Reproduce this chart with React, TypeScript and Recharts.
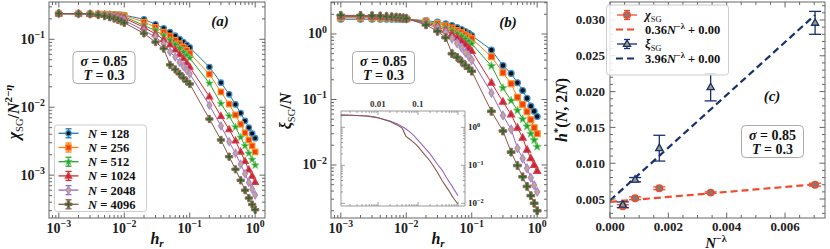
import React from 'react';
import { ComposedChart, Line, Scatter, XAxis, YAxis, ErrorBar, ReferenceArea } from 'recharts';

// ---------- data ----------
const HR = [0.001, 0.002, 0.003, 0.004, 0.005, 0.006, 0.007, 0.008, 0.009, 0.01,
  0.02, 0.03, 0.04, 0.05, 0.06, 0.07, 0.08, 0.09, 0.1,
  0.2, 0.3, 0.4, 0.5, 0.6, 0.7, 0.8, 0.9, 1.0];

const SIZE_LABELS = ['128', '256', '512', '1024', '2048', '4096'];

const CHI_N128 = [0.237, 0.237, 0.236, 0.236, 0.235, 0.234, 0.233, 0.231, 0.229, 0.227,
  0.197, 0.166, 0.145, 0.128, 0.113, 0.101, 0.091, 0.083, 0.076,
  0.039, 0.023, 0.0155, 0.011, 0.0082, 0.0063, 0.005, 0.0041, 0.0035];
const CHI_N256 = [0.238, 0.238, 0.237, 0.236, 0.235, 0.233, 0.231, 0.229, 0.226, 0.223,
  0.18, 0.15, 0.128, 0.112, 0.097, 0.086, 0.077, 0.069, 0.062,
  0.0306, 0.0168, 0.0111, 0.0077, 0.0056, 0.0042, 0.0033, 0.0027, 0.0022];
const CHI_N512 = [0.238, 0.238, 0.237, 0.235, 0.233, 0.23, 0.227, 0.223, 0.219, 0.215,
  0.16, 0.135, 0.113, 0.097, 0.084, 0.074, 0.065, 0.058, 0.053,
  0.0225, 0.0113, 0.0074, 0.0051, 0.0036, 0.0027, 0.0021, 0.0017, 0.0014];
const CHI_N1024 = [0.238, 0.237, 0.236, 0.233, 0.229, 0.225, 0.22, 0.215, 0.21, 0.205,
  0.15, 0.12, 0.099, 0.083, 0.07, 0.06, 0.052, 0.045, 0.039,
  0.0143, 0.0074, 0.0047, 0.0032, 0.0022, 0.0016, 0.0012, 0.00097, 0.00079];
const CHI_N2048 = [0.239, 0.238, 0.236, 0.231, 0.225, 0.219, 0.212, 0.205, 0.198, 0.19,
  0.135, 0.108, 0.086, 0.065, 0.055, 0.046, 0.04, 0.035, 0.031,
  0.0107, 0.0053, 0.0031, 0.0021, 0.00145, 0.00105, 0.00078, 0.00062, 0.00051];
const CHI_N4096 = [0.24, 0.238, 0.235, 0.228, 0.22, 0.211, 0.202, 0.193, 0.184, 0.175,
  0.122, 0.091, 0.073, 0.042, 0.036, 0.031, 0.027, 0.024, 0.022,
  0.0067, 0.0033, 0.00187, 0.00122, 0.00084, 0.0006, 0.00046, 0.00037, 0.00031];

const XI_N128 = [1.68, 1.68, 1.68, 1.68, 1.68, 1.68, 1.68, 1.68, 1.68, 1.68,
  1.6, 1.52, 1.43, 1.35, 1.25, 1.17, 1.09, 1.02, 0.95,
  0.57, 0.33, 0.25, 0.18, 0.137, 0.104, 0.079, 0.066, 0.055];
const XI_N256 = [1.76, 1.76, 1.76, 1.75, 1.75, 1.74, 1.73, 1.72, 1.71, 1.7,
  1.57, 1.45, 1.34, 1.24, 1.13, 1.05, 0.97, 0.9, 0.85,
  0.45, 0.257, 0.174, 0.108, 0.084, 0.065, 0.049, 0.037, 0.03];
const XI_N512 = [1.82, 1.82, 1.81, 1.8, 1.79, 1.78, 1.76, 1.75, 1.73, 1.71,
  1.53, 1.38, 1.24, 1.12, 1.01, 0.92, 0.84, 0.77, 0.71,
  0.325, 0.15, 0.096, 0.068, 0.05, 0.039, 0.03, 0.024, 0.019];
const XI_N1024 = [1.87, 1.86, 1.85, 1.84, 1.82, 1.8, 1.78, 1.76, 1.74, 1.72,
  1.48, 1.31, 1.14, 1.0, 0.88, 0.78, 0.69, 0.61, 0.55,
  0.18, 0.092, 0.059, 0.037, 0.026, 0.017, 0.0126, 0.01, 0.0081];
const XI_N2048 = [1.9, 1.89, 1.88, 1.86, 1.84, 1.82, 1.79, 1.77, 1.75, 1.72,
  1.44, 1.22, 1.05, 0.85, 0.72, 0.62, 0.52, 0.46, 0.4,
  0.126, 0.057, 0.035, 0.018, 0.0126, 0.0089, 0.0064, 0.0049, 0.0039];
const XI_N4096 = [1.93, 1.92, 1.9, 1.88, 1.85, 1.83, 1.8, 1.77, 1.75, 1.72,
  1.38, 1.1, 0.88, 0.5, 0.44, 0.38, 0.33, 0.3, 0.27,
  0.066, 0.033, 0.0157, 0.0098, 0.0066, 0.0047, 0.0034, 0.0026, 0.002];

const INSET_N2048 = [2.1, 2.08, 2.05, 2.02, 1.99, 1.95, 1.91, 1.87, 1.83, 1.79,
  1.47, 1.24, 1.06, 0.9, 0.78, 0.68, 0.6, 0.52, 0.46,
  0.2, 0.11, 0.075, 0.05, 0.037, 0.029, 0.023, 0.019, 0.016];
const INSET_N4096 = [2.1, 2.08, 2.05, 2.02, 1.98, 1.94, 1.9, 1.86, 1.82, 1.78,
  1.42, 1.16, 0.96, 0.58, 0.5, 0.44, 0.39, 0.35, 0.31,
  0.13, 0.068, 0.04, 0.028, 0.021, 0.016, 0.013, 0.011, 0.0095];

const N_LAMBDA = [0.00044, 0.00086, 0.00169, 0.00345, 0.00703];
const HSTAR_CHI = [0.004, 0.0051, 0.0065, 0.0059, 0.007];
const ERR_CHI = [0.0002, 0.0002, 0.0002, 0.0001, 0.0002];
const HSTAR_XI = [0.0042, 0.0077, 0.0121, 0.0206, 0.0296];
const ERR_XI = [0.0004, 0.0003, 0.0018, 0.0019, 0.0016];
const FIT_X = [0, 0.00703];
const FIT_CHI = [0.0046, 0.00705];
const FIT_XI = [0.0048, 0.0307];

// tick positions
const decade = (k: number) => [1, 2, 3, 4, 5, 6, 7, 8, 9].map((m) => +(m * Math.pow(10, k)).toPrecision(3));
const A_X_TICKS = [0.0008, 0.0009, ...decade(-3), ...decade(-2), ...decade(-1), 1];
const A_Y_TICKS = [0.0003, 0.0004, 0.0005, 0.0006, 0.0007, 0.0008, 0.0009, ...decade(-3), ...decade(-2), 0.1, 0.2, 0.3];
const B_Y_TICKS = [0.002, 0.003, 0.004, 0.005, 0.006, 0.007, 0.008, 0.009, ...decade(-2), ...decade(-1), 1, 2, 3];
const IN_X_TICKS = [0.002, 0.003, 0.004, 0.005, 0.006, 0.007, 0.008, 0.009, ...decade(-2), ...decade(-1), 1];
const IN_Y_TICKS = [...decade(-2), ...decade(-1), 1, 2];
const C_X_TICKS = [0, 0.0005, 0.001, 0.0015, 0.002, 0.0025, 0.003, 0.0035, 0.004, 0.0045, 0.005, 0.0055, 0.006, 0.0065, 0.007];
const C_Y_TICKS = [0.003, 0.004, 0.005, 0.006, 0.007, 0.008, 0.009, 0.01, 0.011, 0.012, 0.013, 0.014, 0.015, 0.016,
  0.017, 0.018, 0.019, 0.02, 0.021, 0.022, 0.023, 0.024, 0.025, 0.026, 0.027, 0.028, 0.029, 0.03, 0.031, 0.032];

// ---------- tables for the library ----------
const CHI_ROWS = HR.map((h, i) => ({ h, n128: CHI_N128[i], n256: CHI_N256[i], n512: CHI_N512[i], n1024: CHI_N1024[i], n2048: CHI_N2048[i], n4096: CHI_N4096[i] }));
const XI_ROWS = HR.map((h, i) => ({ h, n128: XI_N128[i], n256: XI_N256[i], n512: XI_N512[i], n1024: XI_N1024[i], n2048: XI_N2048[i], n4096: XI_N4096[i] }));
const INSET_ROWS = HR.map((h, i) => ({ h, n2048: INSET_N2048[i], n4096: INSET_N4096[i] }));
const CHI_PTS = N_LAMBDA.map((x, i) => ({ x, y: HSTAR_CHI[i], err: ERR_CHI[i] }));
const XI_PTS = N_LAMBDA.map((x, i) => ({ x, y: HSTAR_XI[i], err: ERR_XI[i] }));
const FIT_CHI_ROWS = FIT_X.map((x, i) => ({ x, y: FIT_CHI[i] }));
const FIT_XI_ROWS = FIT_X.map((x, i) => ({ x, y: FIT_XI[i] }));

// ---------- styles ----------
const FONT = '"Liberation Serif", "DejaVu Serif", serif';
const AX = '#555';
const SERIES = [
  { key: 'n128', color: '#1f77b4', kind: 'circle' },
  { key: 'n256', color: '#ff7f0e', kind: 'square' },
  { key: 'n512', color: '#2ca02c', kind: 'star' },
  { key: 'n1024', color: '#d62728', kind: 'triangle' },
  { key: 'n2048', color: '#9467bd', kind: 'diamond' },
  { key: 'n4096', color: '#8c564b', kind: 'plus' },
];
const RED = '#ef4b2c';
const NAVY = '#17306e';

const PA = { L: 49, R: 265, T: 2, B: 218 };
const PB = { L: 331, R: 547, T: 2, B: 218 };
const PC = { L: 610, R: 825, T: 2, B: 218 };
const PI = { L: 341, R: 465, T: 111, B: 206 };

const W = 830;
const H = 249;
const marginOf = (p: { L: number; R: number; T: number; B: number }) => ({ left: p.L - 1, right: W - p.R, top: p.T, bottom: H - p.B - 1 });

function starPoints(cx: number, cy: number, ro: number, ri: number) {
  const pts: string[] = [];
  for (let k = 0; k < 10; k++) {
    const r = k % 2 === 0 ? ro : ri;
    const a = -Math.PI / 2 + (k * Math.PI) / 5;
    pts.push(`${cx + r * Math.cos(a)},${cy + r * Math.sin(a)}`);
  }
  return pts.join(' ');
}

function Marker({ kind, cx, cy, s = 1 }: { kind: string; cx: number; cy: number; s?: number }) {
  if (cx == null || cy == null || isNaN(cx) || isNaN(cy)) return null;
  switch (kind) {
    case 'circle':
      return <circle cx={cx} cy={cy} r={2.7 * s} fill="#101010" stroke="#3a8fd0" strokeWidth={1.3} />;
    case 'square':
      return <rect x={cx - 2.7 * s} y={cy - 2.7 * s} width={5.4 * s} height={5.4 * s} fill="#f0400c" stroke="#ff8a20" strokeWidth={1.2} />;
    case 'star':
      return <polygon points={starPoints(cx, cy, 4.0 * s, 1.7 * s)} fill="#2ca02c" stroke="#6fcf6f" strokeWidth={0.8} />;
    case 'triangle': {
      const r = 3.7 * s;
      return <polygon points={`${cx},${cy - r} ${cx + r * 0.9},${cy + r * 0.6} ${cx - r * 0.9},${cy + r * 0.6}`} fill="#b8284a" stroke="#e33a3a" strokeWidth={1.1} />;
    }
    case 'diamond': {
      const w = 2.4 * s, h = 3.9 * s;
      return <polygon points={`${cx},${cy - h} ${cx + w},${cy} ${cx},${cy + h} ${cx - w},${cy}`} fill="#c9a97c" stroke="#a98ad6" strokeWidth={1.2} />;
    }
    case 'plus': {
      const a = 1.2 * s, l = 3.6 * s;
      const p = [[-a, -l], [a, -l], [a, -a], [l, -a], [l, a], [a, a], [a, l], [-a, l], [-a, a], [-l, a], [-l, -a], [-a, -a]];
      return <polygon points={p.map(([x, y]) => `${cx + x},${cy + y}`).join(' ')} fill="#2e6b2a" stroke="#9a6a5c" strokeWidth={1} />;
    }
    default:
      return null;
  }
}

const isMajorLog = (v: number) => {
  const l = Math.log10(v);
  return Math.abs(l - Math.round(l)) < 1e-6;
};

function Pow10({ x, y, exp, anchor = 'middle', size = 14 }: { x: number; y: number; exp: number; anchor?: string; size?: number }) {
  return (
    <text x={x} y={y} textAnchor={anchor as any} fontFamily={FONT} fontWeight="bold" fontSize={size} fill="#222">
      10
      <tspan dy={-size * 0.42} fontSize={size * 0.7}>{exp < 0 ? '\u2212' + -exp : String(exp)}</tspan>
    </text>
  );
}

function logXTick(p: { T: number; B: number }, labels: boolean, size = 14) {
  return (props: any) => {
    const x = props.x;
    const v = props.payload.value;
    const M = isMajorLog(v);
    const L = M ? 5.5 : 3;
    return (
      <g>
        <line x1={x} x2={x} y1={p.B} y2={p.B - L} stroke={AX} strokeWidth={0.9} />
        <line x1={x} x2={x} y1={p.T} y2={p.T + L} stroke={AX} strokeWidth={0.9} />
        {labels && M && <Pow10 x={x} y={p.B + 15} exp={Math.round(Math.log10(v))} size={size} />}
      </g>
    );
  };
}

function logYTick(p: { L: number; R: number }, labels: boolean, size = 14) {
  return (props: any) => {
    const y = props.y;
    const v = props.payload.value;
    const M = isMajorLog(v);
    const L = M ? 5.5 : 3;
    return (
      <g>
        <line x1={p.L} x2={p.L + L} y1={y} y2={y} stroke={AX} strokeWidth={0.9} />
        <line x1={p.R} x2={p.R - L} y1={y} y2={y} stroke={AX} strokeWidth={0.9} />
        {labels && M && <Pow10 x={p.L - 4} y={y + 4.5} exp={Math.round(Math.log10(v))} anchor="end" size={size} />}
      </g>
    );
  };
}

function insetXTick(props: any) {
  const x = props.x;
  const v = props.payload.value;
  const M = isMajorLog(v);
  const L = M ? 4 : 2;
  const e = Math.round(Math.log10(v));
  return (
    <g>
      <line x1={x} x2={x} y1={PI.B} y2={PI.B - L} stroke="#888" strokeWidth={0.8} />
      <line x1={x} x2={x} y1={PI.T} y2={PI.T + L} stroke="#888" strokeWidth={0.8} />
      {M && e < 0 && (
        <text x={x} y={PI.T - 4} textAnchor="middle" fontFamily={FONT} fontWeight="bold" fontSize={9} fill="#333">
          {e === -2 ? '0.01' : '0.1'}
        </text>
      )}
    </g>
  );
}

function insetYTick(props: any) {
  const y = props.y;
  const v = props.payload.value;
  const M = isMajorLog(v);
  const L = M ? 4 : 2;
  return (
    <g>
      <line x1={PI.L} x2={PI.L + L} y1={y} y2={y} stroke="#888" strokeWidth={0.8} />
      <line x1={PI.R} x2={PI.R - L} y1={y} y2={y} stroke="#888" strokeWidth={0.8} />
      {M && <Pow10 x={PI.R + 3} y={y + 3} exp={Math.round(Math.log10(v))} anchor="start" size={9} />}
    </g>
  );
}

function linXTick(props: any) {
  const x = props.x;
  const v = props.payload.value;
  const M = Math.abs(v / 0.002 - Math.round(v / 0.002)) < 1e-6;
  const L = M ? 5.5 : 3;
  return (
    <g>
      <line x1={x} x2={x} y1={PC.B} y2={PC.B - L} stroke={AX} strokeWidth={0.9} />
      <line x1={x} x2={x} y1={PC.T} y2={PC.T + L} stroke={AX} strokeWidth={0.9} />
      {M && (
        <text x={x} y={PC.B + 13} textAnchor="middle" fontFamily={FONT} fontWeight="bold" fontSize={13} fill="#222">
          {v.toFixed(3)}
        </text>
      )}
    </g>
  );
}

function linYTick(props: any) {
  const y = props.y;
  const v = props.payload.value;
  const M = Math.abs(v / 0.005 - Math.round(v / 0.005)) < 1e-6;
  const L = M ? 5.5 : 3;
  return (
    <g>
      <line x1={PC.L} x2={PC.L + L} y1={y} y2={y} stroke={AX} strokeWidth={0.9} />
      <line x1={PC.R} x2={PC.R - L} y1={y} y2={y} stroke={AX} strokeWidth={0.9} />
      {M && (
        <text x={PC.L - 5} y={y + 4.5} textAnchor="end" fontFamily={FONT} fontWeight="bold" fontSize={13} fill="#222">
          {v.toFixed(3)}
        </text>
      )}
    </g>
  );
}

const dotFor = (kind: string, s = 1) => (props: any) => (
  <Marker key={`m-${kind}-${props.index}`} kind={kind} cx={props.cx} cy={props.cy} s={s} />
);

const LOG_X_DOMAIN = [0.000708, 1.413];

function PanelA() {
  return (
    <ComposedChart width={W} height={H} data={CHI_ROWS} margin={marginOf(PA)}>
      <XAxis dataKey="h" type="number" scale="log" domain={LOG_X_DOMAIN} allowDataOverflow ticks={A_X_TICKS} interval={0}
        tick={logXTick(PA, true)} tickLine={false} axisLine={false} height={1} />
      <YAxis type="number" scale="log" domain={[0.000234, 0.354]} allowDataOverflow ticks={A_Y_TICKS} interval={0}
        tick={logYTick(PA, true)} tickLine={false} axisLine={false} width={1} />
      {SERIES.map((s) => (
        <Line key={s.key} dataKey={s.key} stroke={s.color} strokeWidth={1} dot={dotFor(s.kind)} isAnimationActive={false} />
      ))}
    </ComposedChart>
  );
}

function PanelB() {
  return (
    <ComposedChart width={W} height={H} data={XI_ROWS} margin={marginOf(PB)}>
      <XAxis dataKey="h" type="number" scale="log" domain={LOG_X_DOMAIN} allowDataOverflow ticks={A_X_TICKS} interval={0}
        tick={logXTick(PB, true)} tickLine={false} axisLine={false} height={1} />
      <YAxis type="number" scale="log" domain={[0.00155, 3.08]} allowDataOverflow ticks={B_Y_TICKS} interval={0}
        tick={logYTick(PB, true)} tickLine={false} axisLine={false} width={1} />
      {SERIES.map((s) => (
        <Line key={s.key} dataKey={s.key} stroke={s.color} strokeWidth={1} dot={dotFor(s.kind, 1.08)} isAnimationActive={false} />
      ))}
    </ComposedChart>
  );
}

function Inset() {
  return (
    <ComposedChart width={W} height={H} data={INSET_ROWS} margin={marginOf(PI)}>
      <XAxis dataKey="h" type="number" scale="log" domain={[0.00119, 1.496]} allowDataOverflow ticks={IN_X_TICKS} interval={0}
        tick={insetXTick} tickLine={false} axisLine={false} height={1} />
      <YAxis type="number" scale="log" domain={[0.00851, 2.69]} allowDataOverflow ticks={IN_Y_TICKS} interval={0}
        tick={insetYTick} tickLine={false} axisLine={false} width={1} />
      <ReferenceArea x1={0.00119} x2={1.496} y1={0.00851} y2={2.69} fill="#ffffff" fillOpacity={1} stroke="#999" strokeWidth={1} ifOverflow="visible" />
      <Line dataKey="n2048" stroke="#9467bd" strokeWidth={1.1} dot={false} isAnimationActive={false} />
      <Line dataKey="n4096" stroke="#8c564b" strokeWidth={1.1} dot={false} isAnimationActive={false} />
    </ComposedChart>
  );
}

function PanelC() {
  return (
    <ComposedChart width={W} height={H} margin={marginOf(PC)}>
      <XAxis dataKey="x" type="number" domain={[0, 0.00737]} allowDataOverflow ticks={C_X_TICKS} interval={0}
        tick={linXTick} tickLine={false} axisLine={false} height={1} />
      <YAxis type="number" domain={[0.00235, 0.03251]} allowDataOverflow ticks={C_Y_TICKS} interval={0}
        tick={linYTick} tickLine={false} axisLine={false} width={1} />
      <Line data={FIT_CHI_ROWS} dataKey="y" stroke={RED} strokeWidth={2.2} strokeDasharray="7 4" dot={false} isAnimationActive={false} />
      <Line data={FIT_XI_ROWS} dataKey="y" stroke={NAVY} strokeWidth={2.2} strokeDasharray="7 4" dot={false} isAnimationActive={false} />
      <Scatter data={CHI_PTS} dataKey="y" isAnimationActive={false}
        shape={(p: any) => <circle cx={p.cx} cy={p.cy} r={3.2} fill="#7c7c7c" stroke={RED} strokeWidth={1.5} />}>
        <ErrorBar dataKey="err" direction="y" width={6} stroke={RED} strokeWidth={1.3} />
      </Scatter>
      <Scatter data={XI_PTS} dataKey="y" isAnimationActive={false}
        shape={(p: any) => (
          <polygon points={`${p.cx},${p.cy - 4} ${p.cx + 3.6},${p.cy + 2.4} ${p.cx - 3.6},${p.cy + 2.4}`} fill="#a39b78" stroke={NAVY} strokeWidth={1.3} />
        )}>
        <ErrorBar dataKey="err" direction="y" width={6} stroke={NAVY} strokeWidth={1.3} />
      </Scatter>
    </ComposedChart>
  );
}

const T = { fontFamily: FONT, fontWeight: 'bold' as const, fill: '#111' };

function SigmaBox({ cx, cy }: { cx: number; cy: number }) {
  return (
    <g>
      <rect x={cx - 31} y={cy - 16} width={62} height={32} rx={4} fill="#fff" stroke="#aaa" strokeWidth={1} />
      <text x={cx} y={cy - 2} textAnchor="middle" fontSize={14} {...T}>
        <tspan fontStyle="italic">σ</tspan> = 0.85
      </text>
      <text x={cx} y={cy + 12} textAnchor="middle" fontSize={14} {...T}>
        <tspan fontStyle="italic">T</tspan> = 0.3
      </text>
    </g>
  );
}

function ErrHandle({ cx, cy, color, kind, s = 1 }: { cx: number; cy: number; color: string; kind: string; s?: number }) {
  return (
    <g>
      <line x1={cx - 10} x2={cx + 10} y1={cy} y2={cy} stroke={color} strokeWidth={1.3} />
      <line x1={cx} x2={cx} y1={cy - 4.5} y2={cy + 4.5} stroke={color} strokeWidth={1.3} />
      <line x1={cx - 3} x2={cx + 3} y1={cy - 4.5} y2={cy - 4.5} stroke={color} strokeWidth={1.3} />
      <line x1={cx - 3} x2={cx + 3} y1={cy + 4.5} y2={cy + 4.5} stroke={color} strokeWidth={1.3} />
      <Marker kind={kind} cx={cx} cy={cy} s={s} />
    </g>
  );
}

function Overlay() {
  const rowsA = [133.3, 147.5, 161.7, 175.9, 190.1, 204.3];
  return (
    <svg width={W} height={H} style={{ position: 'absolute', left: 0, top: 0, pointerEvents: 'none' }}>
      {/* frames */}
      <rect x={PA.L} y={PA.T} width={PA.R - PA.L} height={PA.B - PA.T} fill="none" stroke="#666" strokeWidth={1} />
      <rect x={PB.L} y={PB.T} width={PB.R - PB.L} height={PB.B - PB.T} fill="none" stroke="#666" strokeWidth={1} />
      <rect x={PC.L} y={PC.T} width={PC.R - PC.L} height={PC.B - PC.T} fill="none" stroke="#666" strokeWidth={1} />

      {/* panel a */}
      <text x={220} y={26} textAnchor="middle" fontSize={15} fontStyle="italic" {...T}>(a)</text>
      <SigmaBox cx={104} cy={67.5} />
      <rect x={54.5} y={125} width={92} height={86.5} rx={3} fill="#fff" fillOpacity={0.85} stroke="#ccc" strokeWidth={1} />
      {SERIES.map((s, i) => (
        <g key={s.key}>
          <ErrHandle cx={68.5} cy={rowsA[i]} color={s.color} kind={s.kind} s={1} />
          <text x={88} y={rowsA[i] + 4.5} fontSize={12.5} {...T}>
            <tspan fontStyle="italic">N</tspan> = {SIZE_LABELS[i]}
          </text>
        </g>
      ))}
      <text x={157} y={244} textAnchor="middle" fontSize={16} {...T}>
        <tspan fontStyle="italic">h</tspan>
        <tspan fontSize={11} dy={3} fontStyle="italic">r</tspan>
      </text>
      <text transform="translate(19,112) rotate(-90)" textAnchor="middle" fontSize={16} {...T}>
        <tspan fontStyle="italic">χ</tspan>
        <tspan fontSize={10.5} dy={3.5} fontWeight="normal">SG</tspan>
        <tspan dy={-3.5}>/</tspan>
        <tspan fontStyle="italic">N</tspan>
        <tspan fontSize={11} dy={-7}>2−</tspan>
        <tspan fontSize={11} fontStyle="italic">η</tspan>
      </text>

      {/* panel b */}
      <text x={508} y={27} textAnchor="middle" fontSize={15} fontStyle="italic" {...T}>(b)</text>
      <SigmaBox cx={383.5} cy={67.5} />
      <text x={438} y={244} textAnchor="middle" fontSize={16} {...T}>
        <tspan fontStyle="italic">h</tspan>
        <tspan fontSize={11} dy={3} fontStyle="italic">r</tspan>
      </text>
      <text transform="translate(291,111) rotate(-90)" textAnchor="middle" fontSize={16} {...T}>
        <tspan fontStyle="italic">ξ</tspan>
        <tspan fontSize={10.5} dy={3.5} fontWeight="normal">SG</tspan>
        <tspan dy={-3.5}>/</tspan>
        <tspan fontStyle="italic">N</tspan>
      </text>

      {/* panel c */}
      <text x={772} y={101} textAnchor="middle" fontSize={15} fontStyle="italic" {...T}>(c)</text>
      <SigmaBox cx={772.5} cy={141.5} />
      <rect x={606.5} y={5} width={122} height={70} rx={3} fill="#fff" fillOpacity={0.85} stroke="#ccc" strokeWidth={1} />
      <ErrHandle cx={627} cy={15} color={RED} kind="none" />
      <circle cx={627} cy={15} r={3.2} fill="#7c7c7c" stroke={RED} strokeWidth={1.5} />
      <text x={645} y={19} fontSize={12.5} {...T}>
        <tspan fontStyle="italic">χ</tspan>
        <tspan fontSize={8.5} dy={2.5} fontWeight="normal">SG</tspan>
      </text>
      <line x1={616} x2={638} y1={29.5} y2={29.5} stroke={RED} strokeWidth={2.2} strokeDasharray="7 4" />
      <text x={645} y={34} fontSize={12.5} {...T}>
        0.36<tspan fontStyle="italic">N</tspan>
        <tspan fontSize={8.5} dy={-5}>−λ</tspan>
        <tspan dy={5}> + 0.00</tspan>
      </text>
      <ErrHandle cx={627} cy={44} color={NAVY} kind="none" />
      <polygon points={`627,40 630.6,46.4 623.4,46.4`} fill="#a39b78" stroke={NAVY} strokeWidth={1.3} />
      <text x={645} y={48} fontSize={12.5} {...T}>
        <tspan fontStyle="italic">ξ</tspan>
        <tspan fontSize={8.5} dy={2.5} fontWeight="normal">SG</tspan>
      </text>
      <line x1={616} x2={638} y1={58.5} y2={58.5} stroke={NAVY} strokeWidth={2.2} strokeDasharray="7 4" />
      <text x={645} y={63} fontSize={12.5} {...T}>
        3.96<tspan fontStyle="italic">N</tspan>
        <tspan fontSize={8.5} dy={-5}>−λ</tspan>
        <tspan dy={5}> + 0.00</tspan>
      </text>
      <text x={716} y={247.5} textAnchor="middle" fontSize={15} {...T}>
        <tspan fontStyle="italic">N</tspan>
        <tspan fontSize={10} dy={-5.5}>−λ</tspan>
      </text>
      <text transform="translate(567,110) rotate(-90)" textAnchor="middle" fontSize={16} {...T}>
        <tspan fontStyle="italic">h</tspan>
        <tspan fontSize={11} dy={-6}>*</tspan>
        <tspan dy={6}>(</tspan>
        <tspan fontStyle="italic">N</tspan>, 2<tspan fontStyle="italic">N</tspan>)
      </text>
    </svg>
  );
}

const layer: React.CSSProperties = { position: 'absolute', left: 0, top: 0 };

export default function App() {
  return (
    <div style={{ position: 'absolute', left: 0, top: 0, width: W, height: H, background: '#fff', overflow: 'hidden' }}>
      <div style={layer}><PanelA /></div>
      <div style={layer}><PanelB /></div>
      <div style={layer}><Inset /></div>
      <div style={layer}><PanelC /></div>
      <Overlay />
    </div>
  );
}
